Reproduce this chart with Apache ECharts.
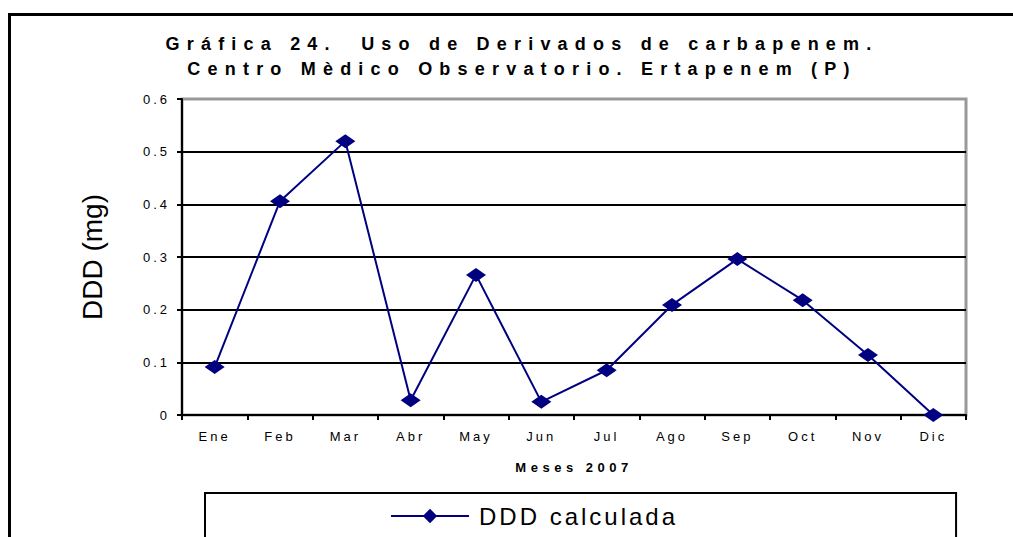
<!DOCTYPE html>
<html>
<head>
<meta charset="utf-8">
<script src="https://cdn.jsdelivr.net/npm/echarts@6/dist/echarts.min.js"></script>
<style>
  html, body { margin: 0; padding: 0; background: #fff; }
  #chart { width: 1013px; height: 537px; }
  /* the original text is printed with wide character spacing */
  #chart text { letter-spacing: 3px; }
  #chart text[style*="bold"] { letter-spacing: 7.2px; }
  #chart text[style*="bold"][style*="13px"] { letter-spacing: 4.5px; }
  #chart text[style*="Narrow"] { letter-spacing: 0; }
</style>
</head>
<body>
<div id="chart"></div>
<script>
const months = ["Ene", "Feb", "Mar", "Abr", "May", "Jun", "Jul", "Ago", "Sep", "Oct", "Nov", "Dic"];
const dddCalculada = [0.091, 0.406, 0.52, 0.028, 0.266, 0.025, 0.085, 0.209, 0.296, 0.218, 0.114, 0];
const yTicks = { min: 0, max: 0.6, interval: 0.1 };

const titleText = "Gráfica 24.  Uso de Derivados de carbapenem.\nCentro Mèdico Observatorio. Ertapenem (P)";

const chart = echarts.init(document.getElementById("chart"), null, { renderer: "svg" });

chart.setOption({
  backgroundColor: "#fff",
  animation: false,
  title: {
    text: titleText,
    left: 517,
    top: 26,
    textAlign: "center",
    textStyle: {
      fontFamily: "Arial",
      fontWeight: "bold",
      fontSize: 18,
      lineHeight: 25,
      color: "#000",
    },
  },
  graphic: [
    {
      type: "rect",
      shape: { x: 9.5, y: 14.5, width: 1030, height: 560 },
      style: { fill: "none", stroke: "#000", lineWidth: 3 },
      silent: true,
    },
  ],
  grid: {
    left: 182,
    right: 47,
    top: 99,
    bottom: 122,
    show: true,
    borderColor: "#999",
    borderWidth: 3,
    backgroundColor: "transparent",
  },
  legend: {
    left: 205,
    top: 493,
    padding: [11, 317, 40, 185],
    borderColor: "#000",
    borderWidth: 2,
    itemWidth: 78,
    itemHeight: 18,
    textStyle: {
      fontFamily: "Arial",
      fontSize: 24,
      color: "#000",
      padding: [0, 0, 0, 5],
    },
    data: ["DDD calculada"],
  },
  xAxis: {
    type: "category",
    data: months,
    boundaryGap: true,
    name: "Meses 2007",
    nameLocation: "middle",
    nameGap: 46,
    nameTextStyle: {
      fontFamily: "Arial",
      fontWeight: "bold",
      fontSize: 13,
      color: "#000",
    },
    axisLine: { lineStyle: { color: "#000", width: 2 } },
    axisTick: { show: true, length: 5, lineStyle: { color: "#000", width: 2 } },
    axisLabel: {
      interval: 0,
      margin: 15,
      fontFamily: "Arial",
      fontSize: 13,
      color: "#000",
    },
    splitLine: { show: false },
  },
  yAxis: {
    type: "value",
    min: yTicks.min,
    max: yTicks.max,
    interval: yTicks.interval,
    name: "DDD (mg)",
    nameLocation: "middle",
    nameGap: 76,
    nameTextStyle: {
      fontFamily: "'Liberation Sans Narrow', 'Liberation Sans', sans-serif",
      fontSize: 28,
      color: "#000",
    },
    axisLine: { show: true, lineStyle: { color: "#000", width: 2 } },
    axisTick: { show: true, length: 5, lineStyle: { color: "#000", width: 2 } },
    axisLabel: {
      margin: 12,
      fontFamily: "Arial",
      fontSize: 13,
      color: "#000",
    },
    splitLine: {
      show: true,
      showMaxLine: false,
      lineStyle: { color: "#000", width: 2 },
    },
  },
  series: [
    {
      name: "DDD calculada",
      type: "line",
      data: dddCalculada,
      symbol: "diamond",
      symbolSize: [20, 14],
      clip: false,
      lineStyle: { color: "#000080", width: 2 },
      itemStyle: { color: "#000080" },
    },
  ],
});
</script>
</body>
</html>
